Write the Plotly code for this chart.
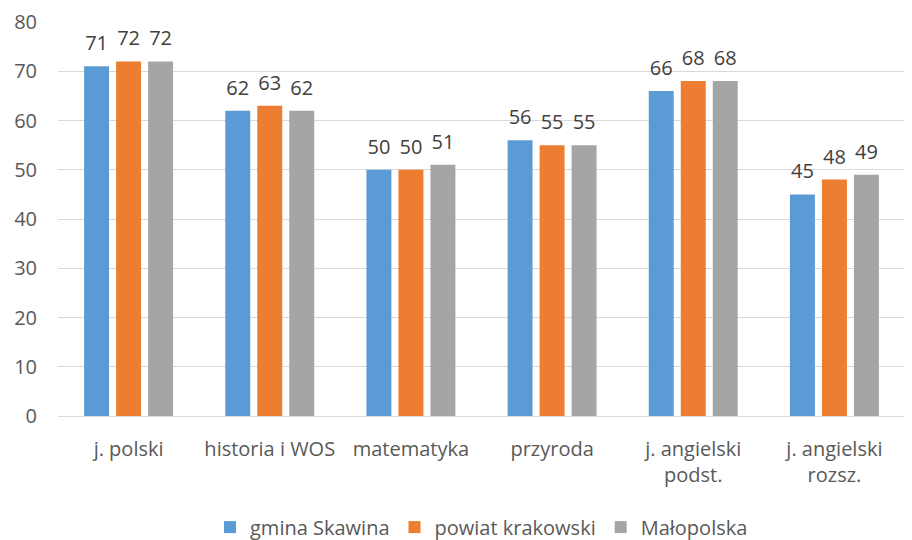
import plotly.graph_objects as go

categories = ["j. polski", "historia i WOS", "matematyka", "przyroda", "j. angielski<br>podst.", "j. angielski<br>rozsz."]
gmina = [71, 62, 50, 56, 66, 45]
powiat = [72, 63, 50, 55, 68, 48]
malopolska = [72, 62, 51, 55, 68, 49]
series_names = ["gmina Skawina", "powiat krakowski", "Małopolska"]
colors = ["#5B9BD5", "#ED7D31", "#A5A5A5"]

font_family = "Open Sans, Liberation Sans, sans-serif"
fs = 20
gap = 0.32

fig = go.Figure()
for name, vals, col in zip(series_names, [gmina, powiat, malopolska], colors):
    fig.add_trace(go.Bar(
        x=categories, y=vals, name=name,
        marker=dict(color=col, line=dict(width=0)),
        cliponaxis=False,
    ))
for name, vals in zip(series_names, [gmina, powiat, malopolska]):
    fig.add_trace(go.Scatter(
        x=categories, y=vals, name=name, mode="markers+text",
        marker=dict(size=16, opacity=0),
        text=[str(v) for v in vals], textposition="top center",
        textfont=dict(size=fs, color="#404040", family=font_family),
        showlegend=False, cliponaxis=False, hoverinfo="skip",
    ))

# page body adds an 8px offset, so the figure is 8px smaller than the window
fig.update_layout(
    width=904, height=532,
    margin=dict(l=50, r=7, t=14, b=124, autoexpand=False),
    plot_bgcolor="white", paper_bgcolor="white",
    barmode="group", bargap=gap, bargroupgap=0.22,
    scattermode="group", scattergap=gap,
    font=dict(family=font_family, size=fs, color="#595959"),
    showlegend=True,
    legend=dict(orientation="h", x=0.5, xanchor="center", y=-0.282, yanchor="middle",
                font=dict(size=fs, color="#595959"), itemsizing="constant",
                traceorder="normal", itemwidth=30),
    yaxis=dict(range=[0, 80], dtick=10, showgrid=True, gridcolor="#D9D9D9", gridwidth=1,
               zeroline=False, showline=False, ticks="", tickfont=dict(size=fs, color="#595959"),
               ticklabelstandoff=20, automargin=False),
    xaxis=dict(showline=True, linecolor="#D9D9D9", linewidth=1, ticks="",
               tickfont=dict(size=fs, color="#595959"), automargin=False,
               ticklabelstandoff=15),
)

fig.write_html("out.html")
